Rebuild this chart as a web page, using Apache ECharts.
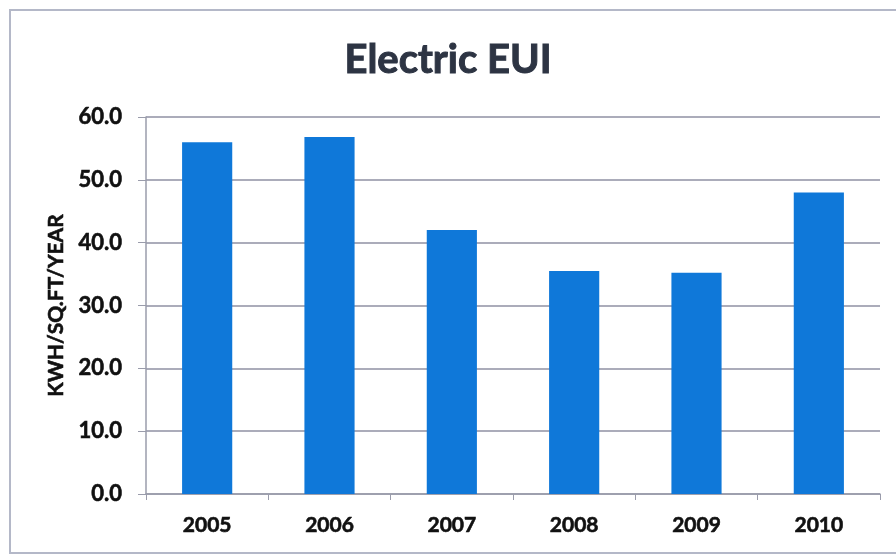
<!DOCTYPE html>
<html>
<head>
<meta charset="utf-8">
<script src="https://cdn.jsdelivr.net/npm/echarts@6/dist/echarts.min.js"></script>
<style>
  html, body { margin: 0; padding: 0; background: #ffffff; }
  #chart { width: 896px; height: 556px; }
</style>
</head>
<body>
<div id="chart"></div>
<script>
// Annual electric energy use intensity
const years = ['2005', '2006', '2007', '2008', '2009', '2010'];
const eui = [56.0, 56.8, 42.0, 35.5, 35.2, 48.0];
const yTicks = { min: 0, max: 60, step: 10 };

const chart = echarts.init(document.getElementById('chart'), null, { renderer: 'canvas' });
const font = 'Lato, "Open Sans", sans-serif';
// a thin stroke in the text colour gives the labels a heavier weight
const heavy = (color, w) => ({ color: color, textBorderColor: color, textBorderWidth: w });

chart.setOption({
  backgroundColor: '#ffffff',
  animation: false,
  graphic: [{
    type: 'rect',
    shape: { x: 10, y: 10, width: 900, height: 543 },
    style: { fill: 'none', stroke: '#b4b8c8', lineWidth: 2 },
    silent: true,
    z: -1
  }],
  title: {
    text: 'Electric EUI',
    left: 'center',
    top: 35,
    textStyle: Object.assign({ fontFamily: font, fontSize: 40, fontWeight: 'bold' }, heavy('#2d3443', 1))
  },
  grid: { left: 146, right: 16, top: 117, bottom: 62, containLabel: false },
  xAxis: {
    type: 'category',
    data: years,
    axisLine: { lineStyle: { color: '#9a9cab', width: 1.5 } },
    axisTick: { show: true, alignWithLabel: false, length: 6, lineStyle: { color: '#9a9cab' } },
    axisLabel: Object.assign({ margin: 21, fontFamily: font, fontSize: 21, fontWeight: 'bold' }, heavy('#111111', 0.6))
  },
  yAxis: {
    type: 'value',
    min: yTicks.min,
    max: yTicks.max,
    interval: yTicks.step,
    name: 'KWH/SQ.FT/YEAR',
    nameLocation: 'middle',
    nameGap: 74,
    nameRotate: 90,
    nameTextStyle: Object.assign({ fontFamily: font, fontSize: 21, fontWeight: 'bold' }, heavy('#111111', 0.6)),
    axisLine: { show: true, lineStyle: { color: '#9a9cab', width: 1.5 } },
    axisTick: { show: true, length: 8, lineStyle: { color: '#9a9cab' } },
    splitLine: { lineStyle: { color: '#8f91a3', width: 1.5 } },
    axisLabel: Object.assign({
      margin: 24,
      fontFamily: font, fontSize: 22, fontWeight: 'bold',
      formatter: v => v.toFixed(1)
    }, heavy('#111111', 0.6))
  },
  series: [{
    type: 'bar',
    data: eui,
    barWidth: '41%',
    itemStyle: { color: '#0f78d9' }
  }]
});
</script>
</body>
</html>
